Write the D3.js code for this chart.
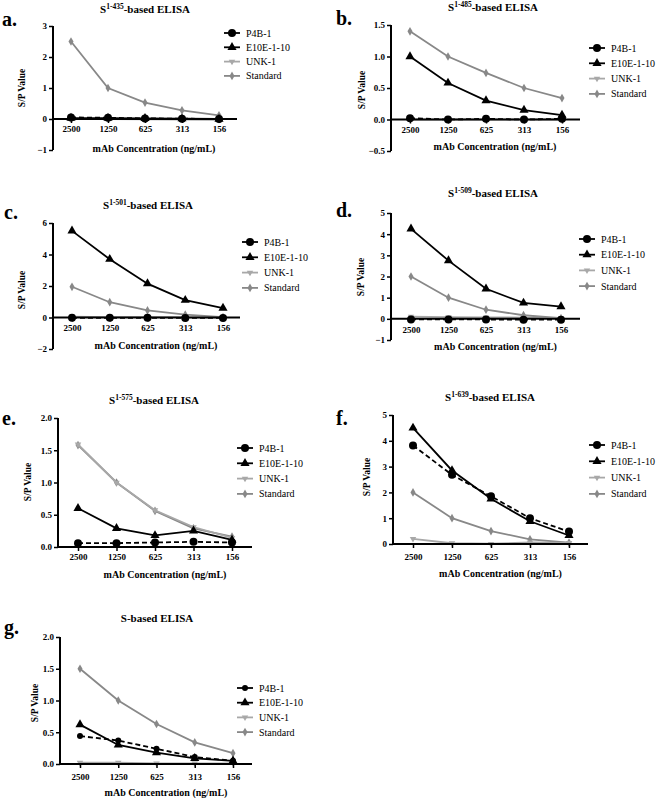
<!DOCTYPE html>
<html><head><meta charset="utf-8">
<script src="https://cdn.jsdelivr.net/npm/d3@7"></script>
<style>body{margin:0;background:#fff}svg{display:block}svg text{font-family:"Liberation Serif","Times New Roman","DejaVu Serif",serif !important}</style>
</head><body>
<svg id="c" width="658" height="798"></svg>
<script>
const categories = ["2500","1250","625","313","156"];
const seriesNames = ["P4B-1","E10E-1-10","UNK-1","Standard"];
const titles = [["S","1-435","-based ELISA"],["S","1-485","-based ELISA"],["S","1-501","-based ELISA"],["S","1-509","-based ELISA"],["S","1-575","-based ELISA"],["S","1-639","-based ELISA"],["S","","-based ELISA"]];
const panelLetters = ["a.","b.","c.","d.","e.","f.","g."];
// values per panel, one array per series
const a_P4B = [0.05,0.04,0.02,0.01,0.0];
const a_E10E = [0.03,0.03,0.02,0.01,0.0];
const a_UNK = [0.0,0.0,-0.01,-0.02,-0.03];
const a_STD = [2.5,1.0,0.53,0.28,0.12];
const b_P4B = [0.02,0.0,0.01,0.0,0.01];
const b_E10E = [1.0,0.58,0.3,0.15,0.07];
const b_UNK = [0.0,0.0,0.0,0.0,0.0];
const b_STD = [1.4,1.0,0.74,0.5,0.34];
const c_P4B = [-0.02,-0.02,-0.02,-0.03,-0.03];
const c_E10E = [5.5,3.7,2.15,1.1,0.6];
const c_UNK = [0.05,0.03,0.02,0.01,0.0];
const c_STD = [1.95,0.97,0.45,0.18,0.03];
const d_P4B = [-0.03,-0.03,-0.03,-0.04,-0.04];
const d_E10E = [4.25,2.75,1.42,0.75,0.58];
const d_UNK = [0.1,0.08,0.07,0.06,0.04];
const d_STD = [2.0,1.0,0.43,0.17,0.03];
const e_P4B = [0.06,0.06,0.07,0.08,0.07];
const e_E10E = [0.6,0.29,0.18,0.25,0.11];
const e_UNK = [1.59,1.0,0.57,0.31,0.14];
const e_STD = [1.58,1.0,0.56,0.29,0.16];
const f_P4B = [3.82,2.68,1.85,1.0,0.48];
const f_E10E = [4.5,2.85,1.75,0.88,0.33];
const f_UNK = [0.2,0.03,0.01,0.06,0.04];
const f_STD = [2.0,1.0,0.5,0.18,0.05];
const g_P4B = [0.44,0.37,0.24,0.11,0.05];
const g_E10E = [0.62,0.3,0.18,0.09,0.05];
const g_UNK = [0.02,0.02,0.01,0.01,0.01];
const g_STD = [1.5,1.0,0.63,0.34,0.17];
const yTicks_a = [-1,0,1,2,3];
const yTicks_b = [-0.5,0,0.5,1.0,1.5];
const yTicks_c = [-2,0,2,4,6];
const yTicks_d = [-1,0,1,2,3,4,5];
const yTicks_e = [0,0.5,1.0,1.5,2.0];
const yTicks_f = [0,1,2,3,4,5];
const yTicks_g = [0,0.5,1.0,1.5,2.0];

const panelData = [
  {s:[a_P4B,a_E10E,a_UNK,a_STD], t:yTicks_a, f:"d"},
  {s:[b_P4B,b_E10E,b_UNK,b_STD], t:yTicks_b, f:".1f"},
  {s:[c_P4B,c_E10E,c_UNK,c_STD], t:yTicks_c, f:"d"},
  {s:[d_P4B,d_E10E,d_UNK,d_STD], t:yTicks_d, f:"d"},
  {s:[e_P4B,e_E10E,e_UNK,e_STD], t:yTicks_e, f:".1f"},
  {s:[f_P4B,f_E10E,f_UNK,f_STD], t:yTicks_f, f:"d"},
  {s:[g_P4B,g_E10E,g_UNK,g_STD], t:yTicks_g, f:".1f"}
];
// layout (pixels)
const layouts = [
  {ax:53, yr:[150,26], xr:[71,219], xe:237, tx:145, ty:13, lx:2, ly:26, ylx:25, yly:88, lgx:232, lgy:33, lgs:14.3, tly:129, xly:152},
  {ax:391, yr:[151,25], xr:[410,562], xe:580, tx:493, ty:11, lx:336, ly:25, ylx:365, yly:90, lgx:597, lgy:48, lgs:15.3, tly:130, xly:150},
  {ax:53, yr:[349,223], xr:[72,223], xe:240, tx:148, ty:209, lx:4, ly:219, ylx:25, yly:290, lgx:250, lgy:242, lgs:15.3, tly:328, xly:349},
  {ax:391, yr:[340,213], xr:[411,561], xe:580, tx:493, ty:197, lx:336, ly:217, ylx:364, yly:277, lgx:587, lgy:239, lgs:15.7, tly:330, xly:350},
  {ax:58, yr:[547,418], xr:[78,232], xe:252, tx:154, ty:404, lx:2, ly:425, ylx:31, yly:482, lgx:245, lgy:448, lgs:15.3, tly:557, xly:578},
  {ax:393, yr:[544,415], xr:[413,569], xe:588, tx:490, ty:401, lx:336, ly:425, ylx:370, yly:477, lgx:597, lgy:445, lgs:16.3, tly:557, xly:577},
  {ax:60, yr:[764,637], xr:[80,233], xe:252, tx:157, ty:622, lx:4, ly:634, ylx:38, yly:703, lgx:245, lgy:688, lgs:14.7, tly:777, xly:796}
];
const colors = ["#000","#000","#a8a8a8","#888"];
const dashes = ["5,3",null,null,null];
const FONT = "Liberation Serif";
const svg = d3.select("#c");

function marker(g, type, x, y, small){
  if(type===0){ g.append("circle").attr("cx",x).attr("cy",y).attr("r",small?3:4).attr("fill","#000"); }
  else if(type===1){ g.append("path").attr("d",d3.symbol(d3.symbolTriangle,36)()).attr("transform",`translate(${x},${y})`).attr("fill","#000"); }
  else if(type===2){ g.append("path").attr("d",d3.symbol(d3.symbolTriangle,18)()).attr("transform",`translate(${x},${y}) rotate(180)`).attr("fill",colors[2]); }
  else { g.append("path").attr("d",d3.symbol(d3.symbolDiamond,22)()).attr("transform",`translate(${x},${y})`).attr("fill",colors[3]); }
}

panelData.forEach((pd,i)=>{
  const L = layouts[i];
  const g = svg.append("g");
  const y = d3.scaleLinear().domain(d3.extent(pd.t)).range(L.yr);
  const x = d3.scalePoint().domain(categories).range(L.xr);
  const y0 = y(0);
  [3,2,1,0].forEach(k=>{
    const vals = pd.s[k];
    const line = d3.line().x((d,j)=>x(categories[j])).y(d=>y(d));
    g.append("path").attr("d",line(vals)).attr("fill","none").attr("stroke",colors[k])
      .attr("stroke-width",1.8).attr("stroke-dasharray",dashes[k]);
    vals.forEach((v,j)=>marker(g,k,x(categories[j]),y(v), i===6 && k===0));
  });
  const ya = g.append("g").attr("transform",`translate(${L.ax},0)`)
    .call(d3.axisLeft(y).tickValues(pd.t).tickFormat(d3.format(pd.f)).tickSize(4).tickPadding(2));
  ya.attr("font-family",FONT);
  ya.select(".domain").attr("stroke-width",2).attr("d",`M0,${L.yr[0]}V${L.yr[1]}`);
  ya.selectAll(".tick line").attr("stroke-width",1.5).attr("x1",-4).attr("x2",0);
  ya.selectAll("text").attr("font-weight","bold").attr("font-size",9);
  const xa = g.append("g").attr("transform",`translate(0,${y0})`)
    .call(d3.axisBottom(x).tickSize(4).tickPadding(3));
  xa.attr("font-family",FONT);
  xa.select(".domain").attr("stroke-width",2).attr("d",`M${L.ax},0H${L.xe}`);
  xa.selectAll(".tick line").attr("stroke-width",1.5);
  xa.selectAll("text").attr("font-weight","bold").attr("font-size",9)
    .attr("y",null).attr("dy",null).attr("transform",`translate(0,${L.tly - y0 + 3})`);
  const t = g.append("text").attr("x",L.tx).attr("y",L.ty).attr("text-anchor","middle")
    .attr("font-family",FONT).attr("font-weight","bold").attr("font-size",11);
  t.append("tspan").text(titles[i][0]);
  if(titles[i][1]){ t.append("tspan").attr("font-size",7.5).attr("dy",-4).text(titles[i][1]); t.append("tspan").attr("dy",4).text(titles[i][2]); }
  else t.append("tspan").text(titles[i][2]);
  g.append("text").attr("x",L.lx).attr("y",L.ly).attr("font-family",FONT).attr("font-weight","bold").attr("font-size",20).text(panelLetters[i]);
  g.append("text").attr("transform",`translate(${L.ylx},${L.yly}) rotate(-90)`).attr("text-anchor","middle")
    .attr("font-family",FONT).attr("font-weight","bold").attr("font-size",9.5).text("S/P Value");
  g.append("text").attr("x",(L.ax+L.xe)/2+ (L.xr[0]-L.ax)/2).attr("y",L.xly).attr("text-anchor","middle")
    .attr("font-family",FONT).attr("font-weight","bold").attr("font-size",10).text("mAb Concentration (ng/mL)");
  seriesNames.forEach((n,k)=>{
    const ly = L.lgy + k*L.lgs;
    g.append("line").attr("x1",L.lgx-8).attr("x2",L.lgx+8).attr("y1",ly).attr("y2",ly).attr("stroke",colors[k]).attr("stroke-width",1.8);
    marker(g,k,L.lgx,ly, i===6 && k===0);
    g.append("text").attr("x",L.lgx+14).attr("y",ly+3.5).attr("font-family",FONT).attr("font-size",10).text(n);
  });
});
</script></body></html>
